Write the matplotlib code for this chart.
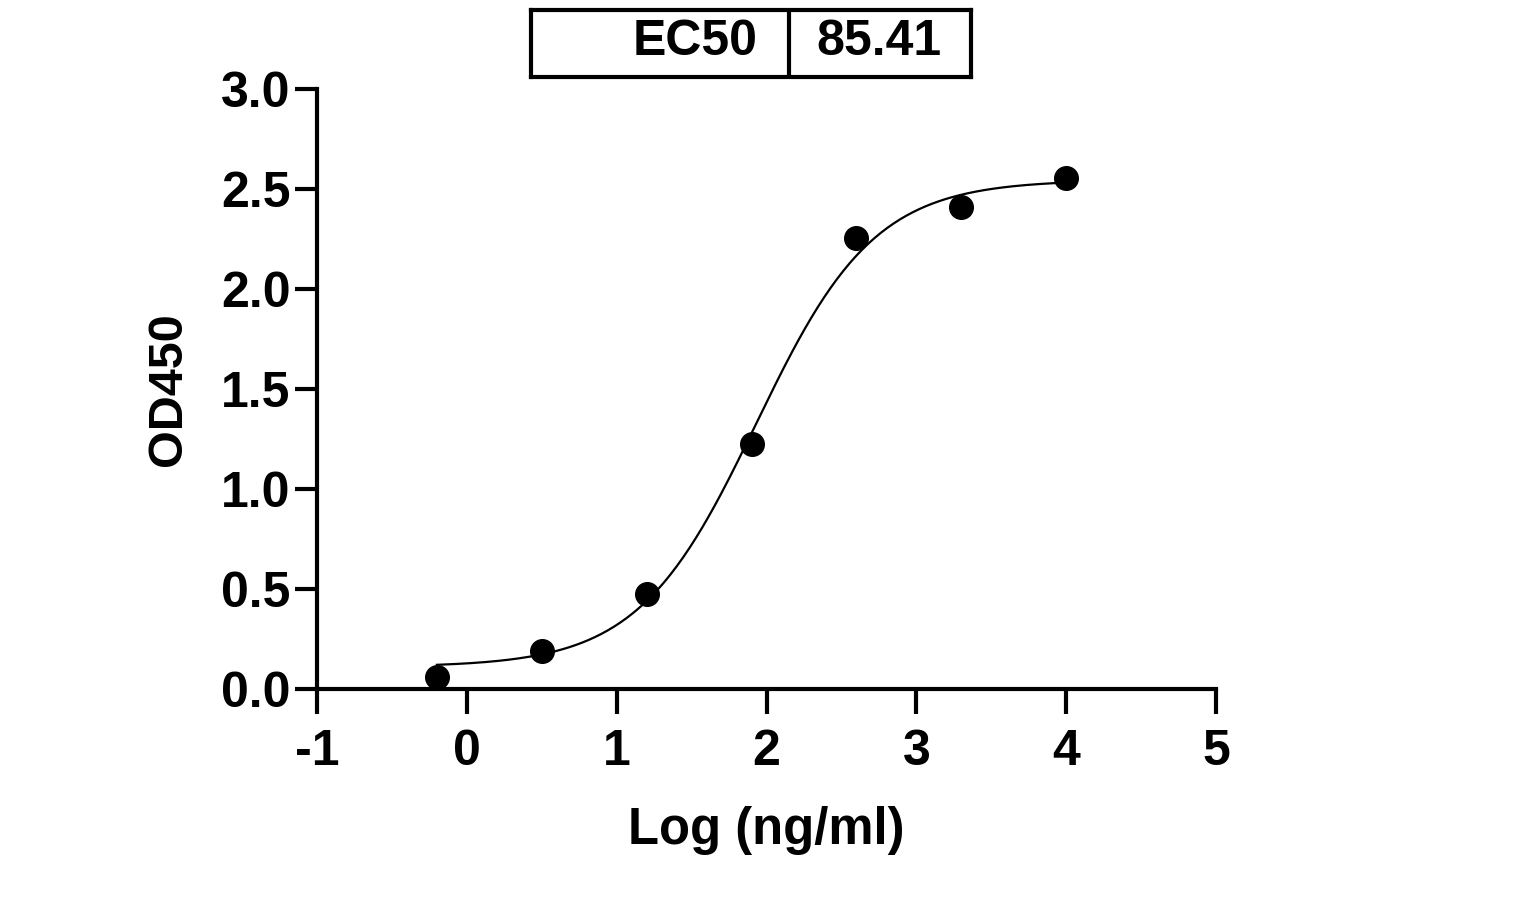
import numpy as np
import matplotlib
matplotlib.use("Agg")
import matplotlib.pyplot as plt

plt.rcParams["font.family"] = ["Liberation Sans", "DejaVu Sans"]
plt.rcParams["font.weight"] = "bold"

# measured points
log_conc = [-0.2, 0.5, 1.2, 1.9, 2.6, 3.3, 4.0]
od450 = [0.06, 0.19, 0.475, 1.225, 2.255, 2.41, 2.555]

# 4PL fit parameters
fit_bottom = 0.11
fit_top = 2.545
ec50 = 85.41
fit_hill = 1.1

x_ticks = [-1, 0, 1, 2, 3, 4, 5]
y_ticks = [0.0, 0.5, 1.0, 1.5, 2.0, 2.5, 3.0]


def four_pl(x):
    return fit_bottom + (fit_top - fit_bottom) / (1 + 10 ** ((np.log10(ec50) - x) * fit_hill))


fig = plt.figure(figsize=(15.39, 8.99), dpi=100)
ax = fig.add_axes([317 / 1539, 1 - 689 / 899, 899 / 1539, 600 / 899])

xs = np.linspace(min(log_conc), max(log_conc), 300)
ax.plot(xs, four_pl(xs), color="black", linewidth=1.6, zorder=2)
ax.plot(log_conc, od450, "o", color="black", markersize=17, zorder=3)

ax.set_xlim(-1, 5)
ax.set_ylim(0, 3)
ax.set_xticks(x_ticks)
ax.set_xticklabels([str(t) for t in x_ticks])
ax.set_yticks(y_ticks)
ax.set_yticklabels([f"{t:.1f}" for t in y_ticks])
for s in ["top", "right"]:
    ax.spines[s].set_visible(False)
for s in ["left", "bottom"]:
    ax.spines[s].set_linewidth(3)
ax.tick_params(axis="both", width=3, labelsize=36, direction="out")
ax.tick_params(axis="x", length=18, pad=11)
ax.tick_params(axis="y", length=16, pad=3)
ax.set_xlabel("Log (ng/ml)", fontsize=36.5, fontweight="bold", labelpad=22)
ax.set_ylabel("OD450", fontsize=35, fontweight="bold", labelpad=22)

# EC50 box on top
tab = fig.add_axes([531 / 1539, 1 - 77 / 899, 440 / 1539, 67 / 899])
tab.set_xlim(0, 1)
tab.set_ylim(0, 1)
tab.set_xticks([])
tab.set_yticks([])
for s in tab.spines.values():
    s.set_linewidth(3)
tab.axvline(0.586, color="black", linewidth=3)
tab.text(0.373, 0.52, "EC50", ha="center", va="center", fontsize=36, fontweight="bold")
tab.text(0.791, 0.52, f"{ec50:.2f}", ha="center", va="center", fontsize=36, fontweight="bold")

fig.savefig("out.png", dpi=100)
